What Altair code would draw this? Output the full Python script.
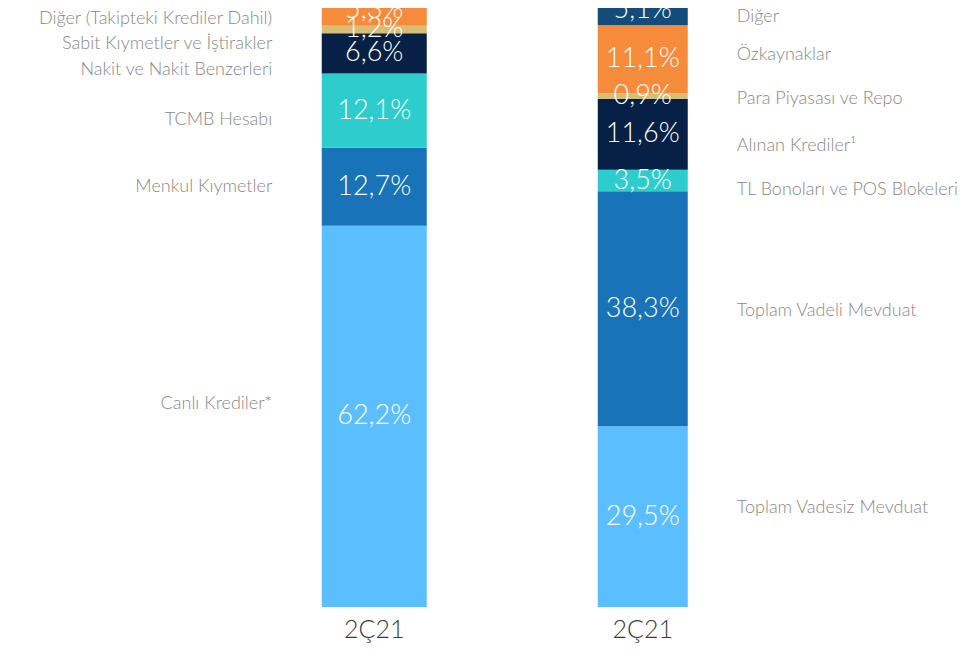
import altair as alt
import pandas as pd

# ---- data ----
SIDES = ["Aktif", "Pasif"]
PERIODS = ["2Ç21", "2Ç21"]

LEFT_ITEMS = ["Canlı Krediler*", "Menkul Kıymetler", "TCMB Hesabı",
              "Nakit ve Nakit Benzerleri", "Sabit Kıymetler ve İştirakler",
              "Diğer (Takipteki Krediler Dahil)"]
LEFT_VALUES = [62.2, 12.7, 12.1, 6.6, 1.2, 5.3]

RIGHT_ITEMS = ["Toplam Vadesiz Mevduat", "Toplam Vadeli Mevduat",
               "TL Bonoları ve POS Blokeleri", "Alınan Krediler¹",
               "Para Piyasası ve Repo", "Özkaynaklar", "Diğer"]
RIGHT_VALUES = [29.5, 38.3, 3.5, 11.6, 0.9, 11.1, 5.1]

# ---- styles / layout ----
LEFT_COLORS = ["#5BBEFF", "#1973B8", "#2DCCCD", "#072146", "#D8BE75", "#F78B3C"]
RIGHT_COLORS = ["#5BBEFF", "#1973B8", "#2DCCCD", "#072146", "#D8BE75", "#F78B3C", "#134B7A"]
# vertical nudges (in % units) of category labels away from segment middles
LEFT_LABEL_SHIFT = [2.0, 0.0, -1.5, -2.7, -2.4, -1.5]
RIGHT_LABEL_SHIFT = [1.4, -0.4, -1.5, -1.9, -0.5, 0.7, -1.2]

rows = []
for side, items, vals, cols, shifts in [
    (SIDES[0], LEFT_ITEMS, LEFT_VALUES, LEFT_COLORS, LEFT_LABEL_SHIFT),
    (SIDES[1], RIGHT_ITEMS, RIGHT_VALUES, RIGHT_COLORS, RIGHT_LABEL_SHIFT),
]:
    base = 0.0
    for it, v, c, s in zip(items, vals, cols, shifts):
        rows.append(dict(side=side, item=it, y0=base, y1=base + v,
                         mid=base + v / 2, laby=base + v / 2 + s,
                         pct=f"{v:.1f}".replace(".", ",") + "%", color=c))
        base += v
df = pd.DataFrame(rows)

FONT = "Lato"

x = alt.X("side:N",
          scale=alt.Scale(domain=SIDES, range=[232, 769], paddingInner=0, paddingOuter=0),
          axis=alt.Axis(title=None, domain=False, ticks=False, labelAngle=0,
                        labelExpr=f"datum.value == '{SIDES[0]}' ? '{PERIODS[0]}' : '{PERIODS[1]}'",
                        labelFont=FONT, labelFontSize=25, labelFontWeight=300,
                        labelColor="#3a3a3a", labelPadding=10))
yscale = alt.Scale(domain=[0, 97.7], nice=False, zero=False)

base = alt.Chart(df)

left_bar = base.transform_filter(alt.datum.side == SIDES[0]).mark_bar(size=105, clip=True).encode(
    x=x,
    y=alt.Y("y0:Q", scale=yscale, axis=None),
    y2="y1:Q",
    color=alt.Color("color:N", scale=None),
)
right_bar = base.transform_filter(alt.datum.side == SIDES[1]).mark_bar(size=90, clip=True).encode(
    x=x,
    y=alt.Y("y0:Q", scale=yscale, axis=None),
    y2="y1:Q",
    color=alt.Color("color:N", scale=None),
)

pct = base.mark_text(font=FONT, fontSize=27, fontWeight=300, color="white",
                     align="center", baseline="middle", clip=True).encode(
    x=x, y=alt.Y("mid:Q", scale=yscale), text="pct:N")

left_lab = base.transform_filter(alt.datum.side == SIDES[0]).mark_text(
    font=FONT, fontSize=18, fontWeight=300, color="#888888",
    align="right", baseline="middle", dx=-102).encode(
    x=x, y=alt.Y("laby:Q", scale=yscale), text="item:N")

right_lab = base.transform_filter(alt.datum.side == SIDES[1]).mark_text(
    font=FONT, fontSize=18, fontWeight=300, color="#888888",
    align="left", baseline="middle", dx=94).encode(
    x=x, y=alt.Y("laby:Q", scale=yscale), text="item:N")

chart = alt.layer(left_bar, right_bar, pct, left_lab, right_lab).properties(
    width=957, height=599,
    autosize=alt.AutoSizeParams(type="none"),
    padding={"left": 0, "top": 0, "right": 0, "bottom": 36},
).configure_view(stroke=None)

chart.save("out.html", embed_options={"renderer": "svg", "actions": False})
